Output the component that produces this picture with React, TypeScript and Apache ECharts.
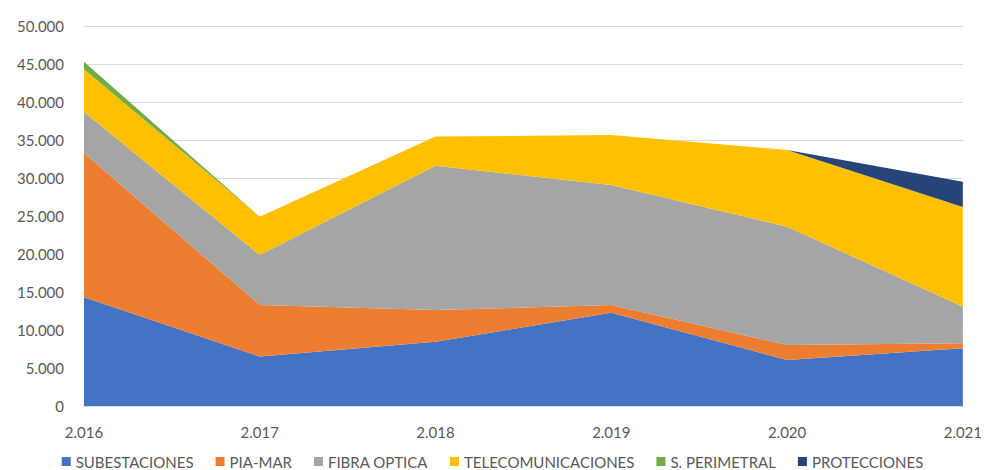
import React, { useEffect, useRef } from "react";
import * as echarts from "echarts";

const years = ["2.016", "2.017", "2.018", "2.019", "2.020", "2.021"];
const subestaciones = [14300, 6500, 8450, 12280, 6050, 7600];
const piaMar = [19000, 6800, 4180, 1010, 1980, 650];
const fibraOptica = [5400, 6570, 18970, 15790, 15570, 4820];
const telecomunicaciones = [5600, 5030, 3850, 6580, 10100, 13130];
const sPerimetral = [1000, 0, 0, 0, 0, 0];
const protecciones = [0, 0, 0, 0, 0, 3300];

const seriesNames = [
  "SUBESTACIONES",
  "PIA-MAR",
  "FIBRA OPTICA",
  "TELECOMUNICACIONES",
  "S. PERIMETRAL",
  "PROTECCIONES",
];
const seriesData = [subestaciones, piaMar, fibraOptica, telecomunicaciones, sPerimetral, protecciones];
const colors = ["#4472C4", "#ED7D31", "#A5A5A5", "#FFC000", "#70AD47", "#264478"];

const fmt = (v: number) => String(v).replace(/\B(?=(\d{3})+(?!\d))/g, ".");

export default function App() {
  const ref = useRef<HTMLDivElement>(null);
  useEffect(() => {
    if (!ref.current) return;
    const chart = echarts.init(ref.current, null, { renderer: "svg" });
    const font = "Lato, 'Noto Sans', sans-serif";
    chart.setOption({
      animation: false,
      color: colors,
      textStyle: { fontFamily: font },
      grid: { left: 84, right: 20, top: 26, bottom: 64 },
      legend: {
        bottom: -4,
        left: "center",
        itemWidth: 9,
        itemHeight: 9,
        itemGap: 22,
        icon: "rect",
        textStyle: { color: "#595959", fontSize: 15, fontFamily: font },
        data: seriesNames,
      },
      xAxis: {
        type: "category",
        data: years,
        boundaryGap: false,
        axisLine: { lineStyle: { color: "#D9D9D9" } },
        axisTick: { show: false },
        axisLabel: { color: "#595959", fontSize: 15, margin: 18 },
      },
      yAxis: {
        type: "value",
        min: 0,
        max: 50000,
        interval: 5000,
        axisLine: { show: false },
        axisTick: { show: false },
        splitLine: { lineStyle: { color: "#D9D9D9" } },
        axisLabel: { color: "#595959", fontSize: 15, margin: 20, formatter: (v: number) => fmt(v) },
      },
      series: seriesNames.map((name, i) => ({
        name,
        type: "line",
        stack: "total",
        data: seriesData[i],
        symbol: "none",
        lineStyle: { width: 0 },
        areaStyle: { color: colors[i], opacity: 1 },
        itemStyle: { color: colors[i] },
      })),
    });
    return () => chart.dispose();
  }, []);
  return (
    <div
      ref={ref}
      style={{ position: "fixed", left: 0, top: 0, width: 985, height: 470, background: "#fff" }}
    />
  );
}
